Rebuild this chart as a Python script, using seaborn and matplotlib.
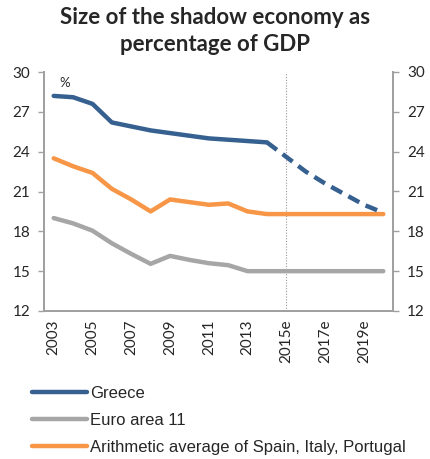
import matplotlib
matplotlib.use("Agg")
import matplotlib.pyplot as plt
from matplotlib.lines import Line2D
import pandas as pd
import seaborn as sns

# Shadow economy, % of GDP
years = list(range(2003, 2021))
greece = [28.2, 28.1, 27.6, 26.2, 25.9, 25.6, 25.4, 25.2, 25.0, 24.9, 24.8, 24.7]
greece_years = list(range(2003, 2015))
greece_est = [24.7, 23.6, 22.5, 21.6, 20.8, 20.0, 19.4]
greece_est_years = list(range(2014, 2021))
euro_area_11 = [19.0, 18.6, 18.05, 17.1, 16.3, 15.55, 16.15, 15.85, 15.6, 15.45,
                15.0, 15.0, 15.0, 15.0, 15.0, 15.0, 15.0, 15.0]
south_avg = [23.5, 22.9, 22.4, 21.2, 20.4, 19.5, 20.4, 20.2, 20.0, 20.1,
             19.5, 19.3, 19.3, 19.3, 19.3, 19.3, 19.3, 19.3]
tick_years = [2003, 2005, 2007, 2009, 2011, 2013, 2015, 2017, 2019]
tick_labels = ["2003", "2005", "2007", "2009", "2011", "2013", "2015e", "2017e", "2019e"]
y_ticks = [12, 15, 18, 21, 24, 27, 30]
series_names = ["Greece", "Euro area 11", "Arithmetic average of Spain, Italy, Portugal"]

BLUE = "#36608F"
GREY = "#A6A6A6"
ORANGE = "#F79646"
AXIS = "#A0A0A0"

sns.set_style("white")
plt.rcParams["font.family"] = ["Lato", "DejaVu Sans"]

fig = plt.figure(figsize=(4.30, 4.59), dpi=100)
ax = fig.add_axes([44 / 430, 1 - 311 / 459, 349 / 430, 239 / 459])

df_hist = pd.DataFrame({"year": greece_years, "value": greece})
df_est = pd.DataFrame({"year": greece_est_years, "value": greece_est})
df_ea = pd.DataFrame({"year": years, "value": euro_area_11})
df_south = pd.DataFrame({"year": years, "value": south_avg})

lw = 3.2
sns.lineplot(data=df_ea, x="year", y="value", ax=ax, color=GREY, lw=lw)
sns.lineplot(data=df_south, x="year", y="value", ax=ax, color=ORANGE, lw=lw)
sns.lineplot(data=df_hist, x="year", y="value", ax=ax, color=BLUE, lw=lw)
sns.lineplot(data=df_est, x="year", y="value", ax=ax, color=BLUE, lw=lw,
             linestyle=(0, (2.8, 1.6)))

ax.axvline(2015, color="#999999", lw=0.8, ls=(0, (1, 1.5)), zorder=0)

ax.set_xlim(2002.5, 2020.5)
ax.set_ylim(12, 30)
ax.set_yticks(y_ticks)
ax.set_xticks(tick_years)
ax.set_xticklabels(tick_labels, rotation=90, fontsize=11)
ax.set_xlabel("")
ax.set_ylabel("")
ax.tick_params(axis="y", labelsize=11, length=4, color=AXIS, width=1, direction="out",
               left=True, pad=6)
ax.tick_params(axis="x", length=0, pad=6)

ax2 = ax.twinx()
ax2.set_ylim(12, 30)
ax2.set_yticks(y_ticks)
ax2.tick_params(axis="y", labelsize=11, length=4, color=AXIS, width=1, direction="out",
                right=True, pad=6)

for a in (ax, ax2):
    a.spines["top"].set_visible(False)
    for s in ("left", "right", "bottom"):
        a.spines[s].set_color(AXIS)
        a.spines[s].set_linewidth(1.3)

ax.text(2003.3, 29.6, "%", fontsize=9.5, va="top", ha="left")

fig.text(0.5, 1 - 31 / 459, "Size of the shadow economy as\npercentage of GDP",
         ha="center", va="center", fontsize=16, fontweight="bold", linespacing=1.3)

handles = [Line2D([], [], color=c, lw=lw) for c in (BLUE, GREY, ORANGE)]
fig.legend(handles, series_names, loc="upper left",
           bbox_to_anchor=(17 / 430, 1 - 371 / 459), frameon=False,
           handlelength=3.3, handletextpad=0.2, labelspacing=0.72,
           prop={"family": "Liberation Sans", "size": 12})

fig.savefig("out.png", dpi=100)
